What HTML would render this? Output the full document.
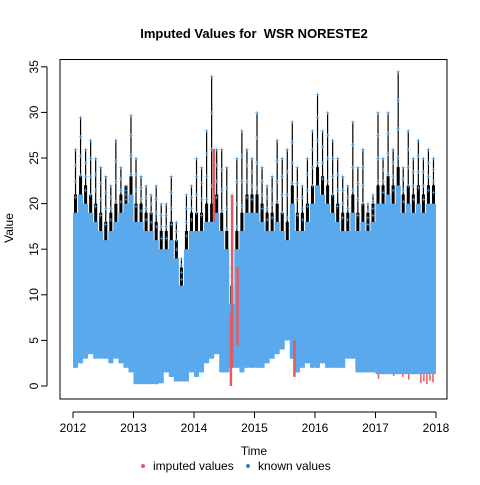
<!DOCTYPE html>
<html><head><meta charset="utf-8"><style>
body{margin:0;background:#fff}
svg text{font-family:"Liberation Sans",Arial,sans-serif;white-space:pre}
</style></head><body>
<svg id="chart" width="480" height="480" xmlns="http://www.w3.org/2000/svg">
<rect width="480" height="480" fill="#fff"/>
<text x="254" y="38" text-anchor="middle" font-size="13" font-weight="bold">Imputed Values for  WSR NORESTE2</text>
<g id="marks"></g>
<rect x="60" y="59.5" width="387" height="339.5" fill="none" stroke="#000"/>
<g id="axes"></g>
<text x="254" y="455" text-anchor="middle" font-size="12">Time</text>
<text transform="translate(13,228) rotate(-90)" text-anchor="middle" font-size="12">Value</text>
<g>
<g><circle cx="143" cy="466" r="2" fill="#e8595f"/><text x="153" y="470" font-size="12">imputed values</text></g>
<g><circle cx="248" cy="466" r="2" fill="#3c7ec4"/><text x="258" y="470" font-size="12">known values</text></g>
</g>
</svg>
<script>
const xTicks=[2012,2013,2014,2015,2016,2017,2018];
const yTicks=[0,5,10,15,20,25,30,35];
const maxV=[26,29.5,26,27,25,24,23,22,27,24,22,29.7,
25,23,22,21,22,20,20,23,18,14,21,22,
25,24,28,34,26,26,24,13,25,28,26,25,
30,24,22,23,27,25,26,29,24,22,25,28,
32,28,30,27,25,23,22,29,24,26,20,21,
30,25,30,26,34.5,24,28,25,27,25,26,25];
const blueTop=[19,21,20,19,18,17,16,17,18,19,20,21,
18,18,17,17,16,15,15,16,14,11,15,17,
17,17,18,18,19,17,15,9,15,17,19,19,
19,18,17,17,18,17,16,20,17,17,18,20,
22,21,20,19,18,17,17,19,17,18,17,18,
20,20,21,20,22,19,20,19,20,19,20,20];
const lowV=[2,2.5,3,3.5,3,3,3,2.5,3,2.5,2,1.5,
0.2,0.2,0.2,0.2,0.2,0.3,1.5,1,0.5,0.5,0.5,1.5,
1,1.5,2.5,3,3.5,1.5,1.5,2,2,1.5,2,2,
2,2,2.5,3,3.5,4,5,3,1.5,2,2.5,2,
2,2.5,2,2,2,2,3,3,1.5,1.5,1.5,1.5,
1.3,1.3,1.3,1.3,1.3,1.3,1.3,1.3,1.3,1.3,1.3,1.3];
const impT=[2014.33,2014.61,2014.72,2015.66,2014.63];
const impLo=[18,0,4.5,1,2];
const impHi=[26,8,13,5,21];
const impPtT=[2017.05,2017.3,2017.45,2017.55,2017.75,2017.8,2017.85,2017.9,2017.95];
const impPtV=[0.8,1.1,1.0,0.7,0.3,0.5,0.2,0.6,0.4];

const X=t=>73+(t-2012)*60.5;
const Y=v=>386-v*9.12;
const NS="http://www.w3.org/2000/svg";
const marksG=document.getElementById('marks'),axesG=document.getElementById('axes');
function mk(tag,attrs,parent){const e=document.createElementNS(NS,tag);for(const k in attrs)e.setAttribute(k,attrs[k]);parent.appendChild(e);return e;}
const nBins=maxV.length,bw=X(2012+1/12)-X(2012);
const bandTop=[],bandBot=[];
for(let i=0;i<nBins;i++){const x0=X(2012+i/12),x1=X(2012+(i+1)/12);
bandTop.push(x0+','+Y(blueTop[i]),x1+','+Y(blueTop[i]));bandBot.unshift(x1+','+Y(lowV[i]),x0+','+Y(lowV[i]));}
for(let i=0;i<nBins;i++){
 const x0=X(2012+i/12),xc=x0+bw/2;
 const hiD=Math.min(maxV[i],blueTop[i]+2);
 const r=mk('rect',{x:x0+bw*0.2,y:Y(hiD),width:bw*0.6,height:Y(blueTop[i])-Y(hiD)+2,fill:'#000'},marksG);
 
 
 const l=mk('line',{x1:xc,x2:xc,y1:Y(lowV[i]),y2:Y(maxV[i]),stroke:'#000','stroke-width':1.2},marksG);
 
 
}
const band=mk('polygon',{points:bandTop.concat(bandBot).join(' '),fill:'#5aa9ec'},marksG);


for(let i=0;i<nBins;i++){
 const xc=X(2012+i/12)+bw/2;
 [1,0.75,0.5,0.25].forEach(f=>{
  const v=blueTop[i]+(maxV[i]-blueTop[i])*f;
  const p=mk('text',{x:xc,y:Y(v)+3,'text-anchor':'middle','font-size':8,fill:'#5aa9ec'},marksG);
  p.textContent='+';
  
  
 });
}
for(let i=0;i<impT.length;i++){
 const l=mk('line',{x1:X(impT[i]),x2:X(impT[i]),y1:Y(impLo[i]),y2:Y(impHi[i]),stroke:'#e8595f','stroke-width':2.5},marksG);
 
 
}
for(let i=0;i<impPtT.length;i++){
 const l=mk('line',{x1:X(impPtT[i]),x2:X(impPtT[i]),y1:Y(lowV[60]),y2:Y(impPtV[i]),stroke:'#e8595f','stroke-width':1.5},marksG);
 
 
}
const xa=mk('line',{x1:X(xTicks[0]),x2:X(xTicks[xTicks.length-1]),y1:412,y2:412,stroke:'#000'},axesG);


xTicks.forEach(t=>{mk('line',{x1:X(t),x2:X(t),y1:412,y2:418,stroke:'#000'},axesG);
 const tx=mk('text',{x:X(t),y:432,'text-anchor':'middle','font-size':12},axesG);tx.textContent=t;
 
 });
const ya=mk('line',{x1:47,x2:47,y1:Y(yTicks[0]),y2:Y(yTicks[yTicks.length-1]),stroke:'#000'},axesG);


yTicks.forEach(v=>{mk('line',{x1:41,x2:47,y1:Y(v),y2:Y(v),stroke:'#000'},axesG);
 const tx=mk('text',{x:0,y:0,'text-anchor':'middle','font-size':12,transform:`translate(38,${Y(v)}) rotate(-90)`},axesG);tx.textContent=v;
 
 });
</script>
</body></html>
